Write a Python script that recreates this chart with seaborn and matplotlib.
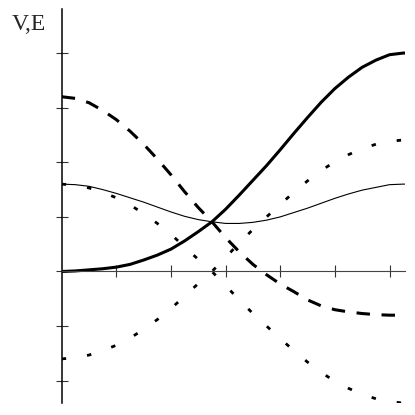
import numpy as np
import pandas as pd
import seaborn as sns
import matplotlib
matplotlib.use("Agg")
import matplotlib.pyplot as plt

# values
x = [0.0, 0.25, 0.5, 0.75, 1.0, 1.25, 1.5, 1.75, 2.0, 2.25, 2.5, 2.75, 3.0,
     3.25, 3.5, 3.75, 4.0, 4.25, 4.5, 4.75, 5.0, 5.25, 5.5, 5.75, 6.0, 6.25, 6.283]
E_up = [0.00, 0.01, 0.03, 0.05, 0.08, 0.13, 0.21, 0.30, 0.41, 0.56, 0.73, 0.91, 1.14,
        1.40, 1.67, 1.94, 2.23, 2.53, 2.82, 3.10, 3.35, 3.56, 3.74, 3.87, 3.97, 4.00, 4.00]
E_down = [3.20, 3.17, 3.09, 2.95, 2.78, 2.57, 2.33, 2.06, 1.77, 1.46, 1.17, 0.91, 0.62,
          0.36, 0.13, -0.06, -0.23, -0.37, -0.52, -0.63, -0.70, -0.74, -0.77, -0.79, -0.80, -0.80, -0.80]
V_mean = [1.60, 1.59, 1.56, 1.50, 1.43, 1.35, 1.27, 1.18, 1.09, 1.01, 0.95, 0.91, 0.88,
          0.88, 0.90, 0.94, 1.00, 1.08, 1.16, 1.25, 1.34, 1.42, 1.49, 1.54, 1.59, 1.60, 1.60]
V_plus = [1.60, 1.58, 1.53, 1.45, 1.35, 1.22, 1.06, 0.88, 0.68, 0.45, 0.22, 0.00, -0.26,
          -0.52, -0.77, -1.00, -1.23, -1.45, -1.66, -1.85, -2.01, -2.14, -2.25, -2.33, -2.38, -2.41, -2.41]
V_minus = [-1.60, -1.58, -1.53, -1.45, -1.35, -1.22, -1.06, -0.88, -0.68, -0.45, -0.22, 0.00, 0.26,
           0.52, 0.77, 1.00, 1.23, 1.45, 1.66, 1.85, 2.01, 2.14, 2.25, 2.33, 2.38, 2.41, 2.41]
xtick_pos = [1, 2, 3, 4, 5, 6]
ytick_pos = [-2, -1, 0, 1, 2, 3, 4]
ylabel = "V,E"

df = pd.DataFrame({"x": x, "up": E_up, "down": E_down, "mean": V_mean,
                   "plus": V_plus, "minus": V_minus})

sns.set_style("ticks")
plt.rcParams["font.family"] = ["Liberation Serif", "DejaVu Serif"]

fig = plt.figure(figsize=(4.15, 4.15), dpi=100)
ax = fig.add_axes([0.1487, 0.0287, 0.8272, 0.9487])

sns.lineplot(data=df, x="x", y="up", ax=ax, color="black", linewidth=2.2)
sns.lineplot(data=df, x="x", y="down", ax=ax, color="black", linewidth=2.2,
             linestyle=(0, (4.4, 3.8)))
sns.lineplot(data=df, x="x", y="mean", ax=ax, color="black", linewidth=0.8)
for col in ["plus", "minus"]:
    sns.lineplot(data=df, x="x", y=col, ax=ax, color="black", linewidth=2.0,
                 linestyle=(0, (1.6, 7.6)))

ax.set_xlim(0, 6.283)
ax.set_ylim(-2.41, 4.80)
ax.set_xticks(xtick_pos)
ax.set_yticks(ytick_pos)
ax.set_xticklabels([])
ax.set_yticklabels([])
ax.set_xlabel("")
ax.set_ylabel("")
ax.spines["top"].set_visible(False)
ax.spines["right"].set_visible(False)
ax.spines["bottom"].set_position(("data", 0))
ax.spines["bottom"].set_linewidth(0.8)
ax.spines["bottom"].set_color("#444444")
ax.spines["left"].set_linewidth(1.1)
ax.spines["left"].set_color("black")
ax.tick_params(axis="both", which="major", bottom=True, left=True,
               direction="inout", length=8, width=0.8, colors="#333333")
ax.grid(False)

fig.text(12 / 415, 1 - 30 / 415, ylabel, fontsize=17, va="baseline", ha="left")

fig.savefig("out.png", dpi=100)
